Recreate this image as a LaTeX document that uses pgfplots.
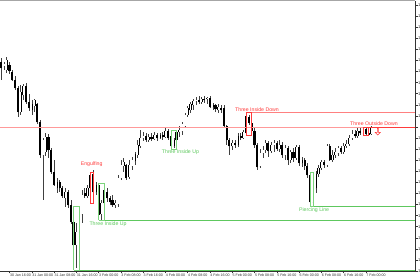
\documentclass[border=0pt]{standalone}
\usepackage{fontspec}
\setmainfont{Liberation Sans}
\usepackage{pgfplots}
\pgfplotsset{compat=1.18}
\usepackage{pgfplotstable}
\usetikzlibrary{shapes.arrows}

\definecolor{pgreen}{HTML}{5EC85E}
\definecolor{pgreenl}{HTML}{7CD47C}
\definecolor{pred}{HTML}{FF3B3B}
\definecolor{predl}{HTML}{FF8080}

\pgfplotstableread{
i o h l c
0 209 213 191 203
1 205 209 201 207
2 201 214 198 211
3 206 209 197 200
4 199 201 190 191
5 191 195 181 183
6 183 185 154 159
7 159 186 156 179
8 176 187 171 185
9 185 188 167 169
10 169 177 160 163
11 161 171 156 167
12 165 172 159 171
13 167 168 147 149
14 149 151 113 116
15 116 133 71 131
16 119 138 115 134
17 134 137 113 121
18 121 123 97 99
19 99 111 85 86
20 83 93 78 89
21 89 91 79 83
22 83 85 73 75
23 73 83 64 79
24 79 81 63 66
25 66 71 47 49
26 49 61 23 26
27 26 48 3 39
28 39 64 35 59
29 57 81 48 76
30 78 83 73 75
31 75 86 73 83
32 83 99 79 96
33 97 101 68 79
34 79 89 76 86
35 86 88 51 56
36 57 71 50 68
37 68 83 66 81
38 79 83 69 73
39 73 75 66 69
40 71 76 64 66
41 66 71 63 68
42 67 96 64 93
43 93 111 91 106
44 105 113 99 109
45 106 107 91 93
46 94 111 92 106
47 105 114 101 111
48 110 119 106 117
49 116 131 113 126
50 125 141 123 133
51 133 139 130 135
52 135 138 129 131
53 131 137 129 134
54 134 138 130 132
55 132 139 131 136
56 136 138 130 133
57 133 138 132 136
58 136 139 131 134
59 134 144 133 140
60 140 142 131 133
61 135 141 122 125
62 125 133 123 131
63 131 140 129 139
64 139 145 134 141
65 140 149 136 147
66 145 158 143 156
67 156 165 154 163
68 161 169 158 167
69 166 172 161 170
70 170 174 166 171
71 171 175 167 169
72 169 174 167 172
73 172 175 168 171
74 172 174 167 173
75 173 175 163 164
76 164 168 161 166
77 166 167 159 162
78 161 167 158 164
79 163 166 158 161
80 163 166 144 145
81 145 146 126 131
82 131 133 116 125
83 125 131 121 128
84 128 131 123 126
85 126 138 124 135
86 135 138 131 133
87 133 141 132 139
88 138 158 136 155
89 154 156 146 148
90 148 152 136 140
91 140 143 123 126
92 126 128 101 104
93 105 122 103 118
94 118 125 113 121
95 121 131 118 128
96 128 130 114 120
97 120 129 118 126
98 126 131 119 128
99 128 130 120 122
100 122 131 119 126
101 126 129 113 116
102 116 126 111 123
103 123 125 106 111
104 111 121 108 119
105 119 123 109 113
106 113 126 111 124
107 124 126 105 108
108 108 114 104 111
109 111 113 101 105
110 105 108 93 96
111 96 99 67 69
112 69 86 64 83
113 83 100 78 97
114 97 106 94 103
115 103 111 101 109
116 109 111 103 106
117 106 127 104 125
118 125 127 110 111
119 111 121 109 116
120 116 123 113 119
121 118 125 115 123
122 123 125 117 119
123 119 128 117 125
124 125 131 123 127
125 127 136 125 133
126 133 141 131 137
127 137 141 133 135
128 135 143 133 140
129 140 143 136 138
130 138 143 137 141
131 142 144 136 137
132 138 142 136 136
133 137 145 136 143
}\candles

\begin{document}
\begin{tikzpicture}
\useasboundingbox (0,-9pt) rectangle (420pt,271pt);
\begin{axis}[
  at={(0,0)}, anchor=south west,
  scale only axis, width=415pt, height=270pt,
  xmin=-0.413, xmax=148.65, ymin=0, ymax=270,
  separate axis lines,
  axis x line*=bottom, axis y line*=right,
  axis line style={-, black!80, line width=0.5pt},
  tick align=outside, major tick length=2.5pt,
  tick style={black!80, line width=0.4pt},
  xtick={3,11,...,131},
  xticklabels={30 Jan 16:00,31 Jan 00:00,31 Jan 08:00,31 Jan 16:00,3 Feb 00:00,3 Feb 08:00,3 Feb 16:00,4 Feb 00:00,4 Feb 08:00,4 Feb 16:00,5 Feb 00:00,5 Feb 08:00,5 Feb 16:00,6 Feb 00:00,6 Feb 08:00,6 Feb 16:00,7 Feb 00:00},
  xticklabel style={anchor=north west, font=\fontsize{3.6}{4}\selectfont, inner sep=0.6pt, xshift=-0.3pt, text=black!80},
  ytick={0,11.0833,...,266.1},
  yticklabels={1.0980,1.0985,1.0990,1.0995,1.1000,1.1005,1.1010,1.1015,1.1020,1.1025,1.1030,1.1035,1.1040,,1.1050,1.1055,1.1060,1.1065,1.1070,1.1075,1.1080,1.1085,1.1090,1.1095,1.1100},
  yticklabel style={anchor=west, font=\fontsize{4.2}{5}\selectfont, inner sep=0.5pt, text=black!80},
]
% candle wicks (low to high)
\addplot[draw=none, mark=none,
  error bars/.cd, y dir=plus, y explicit, error mark=none,
  error bar style={draw=black!75, line width=0.45pt}]
  table[x=i, y=l, y error expr=\thisrow{h}-\thisrow{l}]{\candles};
% candle bodies (black outline / fill)
\addplot[draw=none, mark=none,
  error bars/.cd, y dir=plus, y explicit, error mark=none,
  error bar style={draw=black, line width=2.1pt, line cap=butt}]
  table[x=i, y expr={min(\thisrow{o},\thisrow{c})-0.3}, y error expr={abs(\thisrow{o}-\thisrow{c})+0.6}]{\candles};
% white interior of rising candles
\addplot[draw=none, mark=none,
  error bars/.cd, y dir=plus, y explicit, error mark=none,
  error bar style={draw=white, line width=1.3pt, line cap=butt}]
  table[x=i, y expr={\thisrow{o}+0.1}, y error expr={max(\thisrow{c}-\thisrow{o}-0.2,0)}]{\candles};
% bid line
\addplot[draw=red!40, line width=1pt] coordinates {(-0.413,143.5) (148.65,143.5)};
% pattern lines
\addplot[draw=pgreen, line width=1.1pt] coordinates {(28,0.5) (148.65,0.5)};
\addplot[draw=pgreen, line width=1.1pt] coordinates {(37,50.5) (148.65,50.5)};
\addplot[draw=pgreen, line width=1.1pt] coordinates {(112,64.5) (148.65,64.5)};
\addplot[draw=predl, line width=1.1pt] coordinates {(90,158.5) (148.65,158.5)};
\addplot[draw=pred, line width=0.8pt] coordinates {(132,144) (148.65,144)};
% pattern boxes
\addplot[draw=pgreenl, line width=0.7pt] coordinates {(26,0.5) (28,0.5) (28,64.5) (26,64.5) (26,0.5)};
\addplot[draw=pred, line width=0.6pt] coordinates {(32,68) (33,68) (33,99) (32,99) (32,68)};
\addplot[draw=pgreenl, line width=0.7pt] coordinates {(35,50.5) (37,50.5) (37,88) (35,88) (35,50.5)};
\addplot[draw=pgreenl, line width=0.7pt] coordinates {(61,122) (63,122) (63,141) (61,141) (61,122)};
\addplot[draw=pred, line width=0.7pt] coordinates {(88,136) (90,136) (90,158.5) (88,158.5) (88,136)};
\addplot[draw=pgreenl, line width=0.7pt] coordinates {(111,64.5) (112,64.5) (112,99) (111,99) (111,64.5)};
\addplot[draw=pred, line width=0.7pt] coordinates {(130,136) (132,136) (132,144) (130,144) (130,136)};
% labels
\node[text=pred, font=\fontsize{5.2}{6}\selectfont, inner sep=0pt] at (axis cs:32.5,107) {Engulfing};
\node[text=pgreen, font=\fontsize{5.2}{6}\selectfont, inner sep=0pt] at (axis cs:38.4,47) {Three Inside Up};
\node[text=pgreen, font=\fontsize{5.2}{6}\selectfont, inner sep=0pt] at (axis cs:64.4,118.5) {Three Inside Up};
\node[text=pred, font=\fontsize{5.2}{6}\selectfont, inner sep=0pt] at (axis cs:91.9,161) {Three Inside Down};
\node[text=pgreen, font=\fontsize{5.2}{6}\selectfont, inner sep=0pt] at (axis cs:112.4,60.5) {Piercing Line};
\node[text=pred, font=\fontsize{5.2}{6}\selectfont, inner sep=0pt] at (axis cs:133.9,147) {Three Outside Down};
\node[single arrow, draw=pred, fill=white, line width=0.5pt, rotate=-90, minimum height=6.5pt, minimum width=5pt, single arrow head extend=1pt, inner sep=0pt] at (axis cs:135.3,139.5) {};
\node[fill=pred, text=white, anchor=west, inner sep=0.6pt, font=\fontsize{4.2}{5}\selectfont] at (axis cs:148.65,143.5) {1.1045};
\draw[gray!70, line width=1pt] (rel axis cs:0,1) -- (rel axis cs:1,1);
\end{axis}
\end{tikzpicture}
\end{document}
